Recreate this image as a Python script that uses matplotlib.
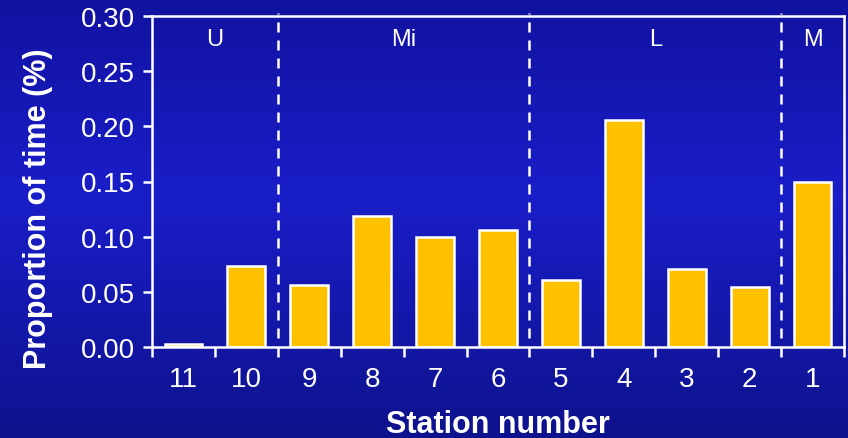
import numpy as np
import matplotlib.pyplot as plt

plt.rcParams['font.family'] = ['Liberation Sans', 'DejaVu Sans']

# data
stations = ["11", "10", "9", "8", "7", "6", "5", "4", "3", "2", "1"]
proportion = [0.003, 0.073, 0.056, 0.119, 0.100, 0.106, 0.061, 0.206, 0.071, 0.054, 0.150]
groups = ["U", "Mi", "L", "M"]
group_sizes = [2, 4, 4, 1]

fig = plt.figure(figsize=(8.48, 4.39), dpi=100)

# blue gradient background
bg = fig.add_axes([0, 0, 1, 1], zorder=-10)
t = np.linspace(0, 1, 256)
top = np.array([18, 18, 160]) / 255
mid = np.array([26, 30, 200]) / 255
bot = np.array([14, 18, 140]) / 255
cols = np.where(t[:, None] < 0.45,
                top + (mid - top) * (t[:, None] / 0.45),
                mid + (bot - mid) * ((t[:, None] - 0.45) / 0.55))
bg.imshow(cols[:, None, :], aspect='auto', extent=[0, 1, 0, 1])
bg.axis('off')

ax = fig.add_axes([152 / 848, 1 - 348 / 439, (844 - 152) / 848, (348 - 17) / 439])
ax.patch.set_alpha(0)

x = np.arange(len(stations))
ax.bar(x, proportion, width=0.6, color='#FFC000', edgecolor='white', linewidth=1.8)

ax.set_xlim(-0.5, len(stations) - 0.5)
ax.set_ylim(0, 0.30)
ax.set_yticks(np.arange(0, 0.301, 0.05))
ax.set_yticklabels([f"{v:.2f}" for v in np.arange(0, 0.301, 0.05)])

# boundary ticks (major) and station labels (minor)
ax.set_xticks(np.arange(-0.5, len(stations), 1.0))
ax.set_xticklabels([])
ax.set_xticks(x, minor=True)
ax.set_xticklabels(stations, minor=True)
ax.tick_params(axis='x', which='major', length=7, width=1.8, color='white', direction='out')
ax.tick_params(axis='x', which='minor', length=0, pad=14, labelsize=20, labelcolor='white')
ax.tick_params(axis='y', length=6.5, width=1.8, color='white', labelsize=20, labelcolor='white', pad=6)

for s in ax.spines.values():
    s.set_color('white')
    s.set_linewidth(1.8)

# group separators and labels
start = 0
for i, (g, n) in enumerate(zip(groups, group_sizes)):
    end = start + n
    if i > 0:
        ax.axvline(start - 0.5, ymin=0.027, ymax=1.01, color='white', linestyle=(0, (4, 3.2)),
                   linewidth=1.8, clip_on=False)
    cx = (start - 0.5 + end - 0.5) / 2
    ax.text(cx, 0.279, g, ha='center', va='center', color='white', fontsize=17)
    start = end

ax.set_xlabel('Station number', color='white', fontsize=22, fontweight='bold', labelpad=12)
ax.set_ylabel('Proportion of time (%)', color='white', fontsize=22, fontweight='bold')
ax.yaxis.set_label_coords(-0.143, 0.42)

fig.savefig('out.png', dpi=100)
